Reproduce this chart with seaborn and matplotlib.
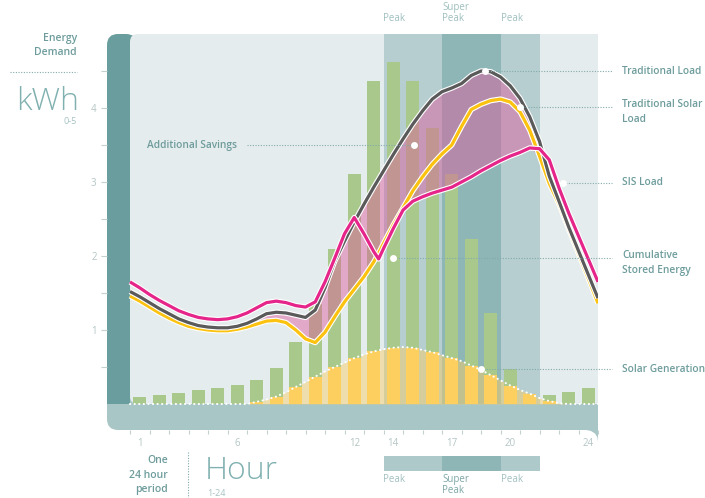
import numpy as np
import matplotlib
matplotlib.use("Agg")
import matplotlib.pyplot as plt
import matplotlib.patheffects as pe
from matplotlib.patches import Rectangle, FancyBboxPatch, Polygon
from matplotlib.transforms import Affine2D
import seaborn as sns

# ---------------------------------------------------------------- data
hours = list(range(1, 25))
demand = [0.10, 0.12, 0.15, 0.19, 0.22, 0.26, 0.32, 0.48, 0.84, 1.35, 2.10, 3.11,
          4.36, 4.62, 4.36, 3.73, 3.11, 2.23, 1.23, 0.47, 0.13, 0.12, 0.16, 0.22]

line_hours = [0.5, 1, 1.5, 2, 2.5, 3, 3.5, 4, 4.5, 5, 5.5, 6, 6.5, 7, 7.5, 8, 8.5,
              9, 9.5, 10, 10.5, 11, 11.5, 12, 12.5, 13, 13.25, 13.5, 14, 14.5, 15,
              15.5, 16, 16.5, 17, 17.5, 18, 18.5, 19, 19.5, 20, 20.5, 21, 21.5, 22,
              22.5, 23, 23.5, 24, 24.5]
traditional_load = [1.52, 1.45, 1.37, 1.29, 1.22, 1.15, 1.10, 1.06, 1.04, 1.03, 1.03,
                    1.05, 1.09, 1.15, 1.22, 1.24, 1.23, 1.20, 1.17, 1.27, 1.57, 1.93,
                    2.20, 2.46, 2.70, 2.93, 3.04, 3.15, 3.37, 3.58, 3.78, 3.96, 4.12,
                    4.22, 4.27, 4.33, 4.44, 4.50, 4.49, 4.42, 4.30, 4.13, 3.88, 3.55,
                    3.08, 2.74, 2.39, 2.07, 1.75, 1.43]
traditional_solar_load = [1.46, 1.39, 1.31, 1.23, 1.16, 1.10, 1.05, 1.02, 1.00, 0.99,
                          0.99, 1.01, 1.04, 1.08, 1.12, 1.13, 1.10, 1.00, 0.88, 0.83,
                          0.97, 1.18, 1.38, 1.55, 1.72, 1.92, 2.04, 2.17, 2.42, 2.65,
                          2.88, 3.07, 3.24, 3.38, 3.50, 3.75, 3.98, 4.05, 4.10, 4.12,
                          4.08, 3.95, 3.70, 3.35, 2.98, 2.70, 2.36, 2.03, 1.70, 1.36]
sis_load = [1.65, 1.57, 1.48, 1.40, 1.33, 1.26, 1.21, 1.17, 1.15, 1.14, 1.15, 1.18,
            1.23, 1.30, 1.37, 1.39, 1.37, 1.33, 1.31, 1.38, 1.65, 1.97, 2.30, 2.52,
            2.30, 2.06, 1.96, 2.10, 2.37, 2.62, 2.74, 2.80, 2.85, 2.89, 2.93, 3.00,
            3.07, 3.15, 3.22, 3.29, 3.35, 3.40, 3.46, 3.45, 3.30, 2.92, 2.58, 2.27,
            1.96, 1.65]

solar_hours = [0.5, 1, 1.5, 2, 2.5, 3, 3.5, 4, 4.5, 5, 5.5, 6, 6.5, 7, 7.5, 8, 8.5,
               9, 9.5, 10, 10.5, 11, 11.5, 12, 12.5, 13, 13.5, 14, 14.5, 15, 15.5,
               16, 16.5, 17, 17.5, 18, 18.5, 19, 19.5, 20, 20.5, 21, 21.5, 22, 22.5,
               23, 23.5, 24, 24.5]
solar_generation = [0, 0, 0, 0, 0, 0, 0, 0, 0, 0, 0, 0, 0, 0.03, 0.06, 0.10, 0.16,
                    0.23, 0.30, 0.37, 0.44, 0.50, 0.56, 0.62, 0.67, 0.71, 0.74, 0.76,
                    0.77, 0.76, 0.73, 0.70, 0.66, 0.62, 0.58, 0.52, 0.46, 0.39, 0.32,
                    0.25, 0.19, 0.14, 0.08, 0.04, 0.01, 0, 0, 0, 0]

tick_hours = [1, 6, 12, 14, 17, 20, 24]
band_start = [13.5, 16.5, 19.5]
band_end = [16.5, 19.5, 21.5]
band_names = ["Peak", "Super\nPeak", "Peak"]

# ---------------------------------------------------------------- style
W, H = 705, 498
GREEN = "#a9c98c"
YELLOW = "#fdcf5f"
GRAY = "#5a5a5a"
GOLD = "#fcc210"
PINK = "#e5258a"
PANEL = "#e5eced"
DARK_TEAL = "#6a9e9e"
BASE_TEAL = "#a9c6c6"
PEAK_C = "#b6cecf"
SUPER_C = "#8fb6b7"
TXT = "#6e9c9c"
LIGHT_TXT = "#a6c2c2"
TICK_TXT = "#b5c5c5"
LEADER = "#84abab"

sns.set_style("white")
plt.rcParams["font.family"] = ["Open Sans", "DejaVu Sans"]

fig = plt.figure(figsize=(W / 100, H / 100), dpi=100)
pix = Affine2D().scale(1 / W, -1 / H).translate(0, 1) + fig.transFigure

PX_PER_H = 19.5
PX_PER_U = 74.0
x_left = 0.5 - (130 - 107) / PX_PER_H
y_bottom = -(430 - 404) / PX_PER_U
ax = fig.add_axes([107 / W, (H - 430) / H, (598 - 107) / W, (430 - 34) / H])
ax.set_facecolor("none")
for s in ax.spines.values():
    s.set_visible(False)


def hx(px):
    return 0.5 + (px - 130) / PX_PER_H


def vy(py):
    return (404 - py) / PX_PER_U


# ------------------------------------------------ frame decorations
def add(patch):
    patch.set_transform(pix)
    patch.set_clip_on(False)
    ax.add_artist(patch)

add(FancyBboxPatch((107, 384), 40, 46, boxstyle="round,pad=0,rounding_size=11",
                   fc=BASE_TEAL, ec="none", zorder=0))
add(Rectangle((125, 404), 473, 26, fc=BASE_TEAL, ec="none", zorder=0))
add(Polygon([(584, 429.5), (591, 431), (595, 433.5), (597.3, 437), (598, 441.5),
             (598, 429.5)], closed=True, fc=BASE_TEAL, ec="none", zorder=0))
add(FancyBboxPatch((107, 34), 30, 60, boxstyle="round,pad=0,rounding_size=11",
                   fc=DARK_TEAL, ec="none", zorder=0.1))
add(Rectangle((107, 50), 23, 354, fc=DARK_TEAL, ec="none", zorder=0.1))
add(FancyBboxPatch((130, 34), 30, 370, boxstyle="round,pad=0,rounding_size=8",
                   fc=PANEL, ec="none", zorder=0.2))
add(Rectangle((140, 34), 458, 370, fc=PANEL, ec="none", zorder=0.2))

# ------------------------------------------------ peak bands
for s, e, n in zip(band_start, band_end, band_names):
    c = SUPER_C if "Super" in n else PEAK_C
    ax.fill_between([s, e], 0, 5.0, color=c, lw=0, zorder=1)

# ------------------------------------------------ solar area
ax.fill_between(solar_hours, 0, solar_generation, color=YELLOW, alpha=0.45, lw=0,
                zorder=2)

# ------------------------------------------------ hourly demand bars
solar_at = dict(zip(solar_hours, solar_generation))
solar_part = [min(d, solar_at[h]) for h, d in zip(hours, demand)]
sns.barplot(x=hours, y=demand, native_scale=True, width=0.67, color=GREEN,
            saturation=1, errorbar=None, linewidth=0, ax=ax, zorder=3)
sns.barplot(x=hours, y=solar_part, native_scale=True, width=0.67, color=YELLOW,
            saturation=1, errorbar=None, linewidth=0, ax=ax, zorder=3.5)

# ------------------------------------------------ additional savings fill
lh = np.array(line_hours)
tl = np.array(traditional_load)
lower = np.minimum(np.array(traditional_solar_load), np.array(sis_load))
mask = (lh >= 6.5) & (lh <= 22) & (tl > lower)
ax.fill_between(lh, lower, tl, where=mask, interpolate=True, color="#e0569b",
                alpha=0.45, lw=0, zorder=5)

# ------------------------------------------------ load lines
halo = [pe.Stroke(linewidth=3.9, foreground="white"), pe.Normal()]
for ys, col, z in [(traditional_solar_load, GOLD, 6), (traditional_load, GRAY, 6.2),
                   (sis_load, PINK, 6.4)]:
    sns.lineplot(x=line_hours, y=ys, color=col, lw=2.3, ax=ax, zorder=z,
                 solid_capstyle="butt", solid_joinstyle="round", path_effects=halo)

sns.lineplot(x=solar_hours, y=solar_generation, color="white", lw=1.5,
             linestyle=(0, (0.1, 2.1)), dash_capstyle="round", ax=ax, zorder=7)

# ------------------------------------------------ callouts
label_x = hx(622)
end_x = hx(612)
callouts = [
    ("Traditional Load", 18.7, 4.50, "center", 0),
    ("Traditional Solar\nLoad", 20.5, 4.01, "top", 8),
    ("SIS Load", 22.7, 2.99, "center", 0),
    ("Cumulative\nStored Energy", 14.0, 1.97, "top", 8),
    ("Solar Generation", 18.5, 0.47, "center", 0),
]
for text, x, y, va, off in callouts:
    ax.plot([x, end_x], [y, y], color=LEADER, lw=0.8, linestyle=(0, (1, 1.4)),
            clip_on=False, zorder=7.5)
    ax.plot([x], [y], "o", ms=5, color="white", mec="none", zorder=8, clip_on=False)
    ax.text(label_x, y + off / PX_PER_U, text, ha="left", va=va, fontsize=7.3,
            fontweight="semibold", color=TXT, clip_on=False, linespacing=1.45)

ax.plot([hx(247), 15.05], [3.5, 3.5], color=LEADER, lw=0.8,
        linestyle=(0, (1, 1.4)), clip_on=False, zorder=7.5)
ax.plot([15.05], [3.5], "o", ms=5, color="white", mec="none", zorder=8)
ax.text(hx(147), 3.5, "Additional Savings", ha="left", va="center", fontsize=7.3,
        fontweight="semibold", color=TXT, zorder=8)

# ------------------------------------------------ band labels (top and legend)
for s, e, n in zip(band_start, band_end, band_names):
    ax.text(s, vy(24), n, ha="left", va="bottom", fontsize=7, color="#9fbfbf",
            linespacing=0.95, clip_on=False)
    c = SUPER_C if "Super" in n else "#adc9c9"
    ax.add_patch(Rectangle((s, vy(471)), e - s, vy(456) - vy(471), fc=c, ec="none",
                           clip_on=False))
    ax.text(s, vy(474), n, ha="left", va="top", fontsize=7,
            color="#7fa6a6" if "Super" in n else "#a2c0c0", linespacing=0.95,
            clip_on=False)

# ------------------------------------------------ axes, ticks
ax.set_xlim(x_left, 24.5)
ax.set_ylim(y_bottom, 5.0)
ax.set_xticks(tick_hours)
ax.set_xticklabels([str(t) for t in tick_hours])
ax.set_xticks(np.arange(0.5, 25, 1), minor=True)
ax.set_yticks([1, 2, 3, 4])
ax.set_yticklabels(["1", "2", "3", "4"])
ax.set_yticks([0.5, 1.5, 2.5, 3.5, 4.5], minor=True)
ax.tick_params(axis="x", which="major", length=0, pad=6, labelsize=7,
               labelcolor=TICK_TXT)
ax.tick_params(axis="x", which="minor", length=3, width=0.8, color="#c3d0d0",
               direction="out", bottom=True)
ax.tick_params(axis="y", which="both", length=4.5, width=0.8, color="#c3d0d0",
               direction="out", left=True, pad=3, labelsize=7, labelcolor=TICK_TXT)
ax.set_xlabel("")
ax.set_ylabel("")

# ------------------------------------------------ side titles
def ftext(x, y, s, **kw):
    fig.text(x / W, 1 - y / H, s, **kw)

ftext(77, 33, "Energy\nDemand", ha="right", va="top", fontsize=7.5,
      fontweight="semibold", color=TXT, linespacing=1.35)
fig.add_artist(plt.Line2D([10 / W, 77 / W], [1 - 72 / H, 1 - 72 / H], color=LEADER,
                          lw=0.8, linestyle=(0, (1, 1.4))))
ftext(79, 110, "kWh", ha="right", va="baseline", fontsize=23, fontweight="light",
      color="#80b0b0")
ftext(77, 121, "0-5", ha="right", va="center", fontsize=6.5, color=LIGHT_TXT)

ftext(168, 455, "One\n24 hour\nperiod", ha="right", va="top", fontsize=7.5,
      fontweight="semibold", color=TXT, linespacing=1.45)
fig.add_artist(plt.Line2D([188 / W, 188 / W], [1 - 452 / H, 0], color=LEADER, lw=0.8,
                          linestyle=(0, (1, 1.4))))
ftext(205, 479, "Hour", ha="left", va="baseline", fontsize=23, fontweight="light",
      color="#80b0b0")
ftext(207, 493, "1-24", ha="left", va="center", fontsize=6.5, color=LIGHT_TXT)

fig.savefig("out.png", dpi=100, facecolor="white")
